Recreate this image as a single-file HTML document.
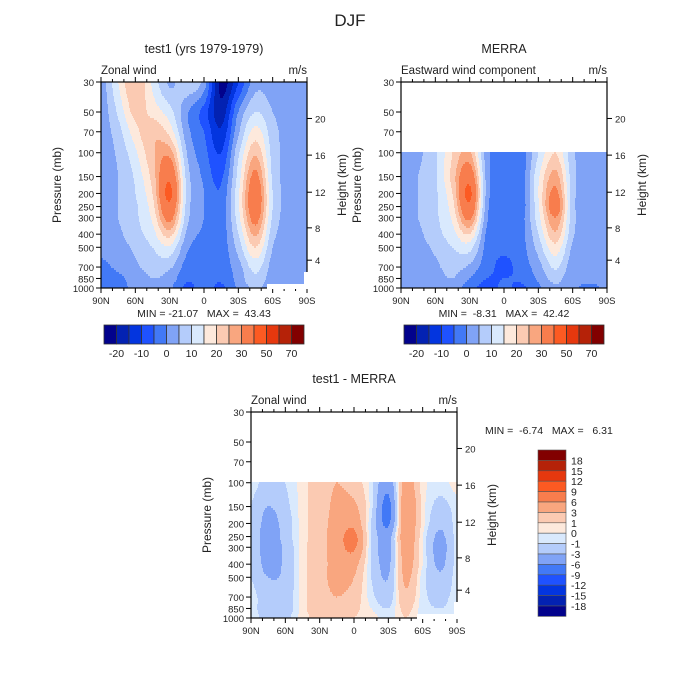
<!DOCTYPE html>
<html><head><meta charset="utf-8">
<style>
html,body{margin:0;padding:0;background:#fff;}
svg{display:block;font-family:"Liberation Sans",sans-serif;}
text{fill:#222;white-space:pre;}
</style></head>
<body>
<svg id="root" width="700" height="700" viewBox="0 0 700 700">
<text x="350" y="26" text-anchor="middle" font-size="17">DJF</text>
</svg>
<script>
// ---- data ----
const lats = [90,75,60,45,30,15,0,-15,-30,-45,-60,-75,-90];
const levsFull = [1000,850,700,500,400,300,250,200,150,100,70,50,30];
const levsMerra = [1000,850,700,500,400,300,250,200,150,100];
const test1Grid = [
 [-2,-1,1,4,1,-6,-3,-6,1,6,1,-1,1],
 [-2,-1,2,5,3,-4,-3,-4,2,9,2,1,1],
 [-1,1,4,7,6,-2,-2,-3,3,12,3,1,1],
 [1,3,6,10,14,1,-2,-3,7,20,5,2,2],
 [1,4,8,13,22,4,-1,-3,10,26,7,3,2],
 [2,5,9,16,33,7,0,-3,13,33,9,3,2],
 [2,5,9,18,38,8,0,-3,14,36,10,3,2],
 [2,5,10,20,42,9,0,-4,14,36,10,3,2],
 [2,5,11,22,38,8,-1,-6,12,32,9,3,2],
 [2,6,14,24,28,5,-3,-10,9,24,8,3,2],
 [2,8,18,24,18,2,-5,-14,4,17,7,3,2],
 [2,11,22,18,12,1,-7,-18,0,10,5,2,2],
 [2,15,25,14,4,9,3,-22,-10,3,2,2,2]
];
const merraGrid = [
 [1,1,2,3,-3,-7,-4,-6,-1,4,1,-1,1],
 [1,2,3,5,0,-5,-5,-4,1,7,1,1,1],
 [1,2,4,7,4,-3,-6,-3,3,11,2,1,1],
 [1,3,6,10,12,-2,-4,-2,7,18,4,2,2],
 [2,4,8,13,20,-1,-3,-2,10,24,6,2,2],
 [2,5,9,16,32,1,-3,-2,13,30,7,3,2],
 [2,5,9,18,38,2,-3,-3,14,35,7,3,2],
 [2,5,9,20,42,3,-3,-3,15,32,7,3,2],
 [2,5,9,22,36,3,-3,-3,14,27,7,3,2],
 [2,4,9,20,26,2,-3,-3,10,20,6,3,2]
];
const diffGrid = [
 [-0.5,-1.5,-1.5,0.5,1.5,2,1,0.5,-0.5,1,-0.5,-0.5,0.3],
 [-0.5,-2,-2,0.5,2,2.5,1.5,0,-1,1.5,-0.5,-1,-0.5],
 [-0.5,-2,-2,0.5,2,3,2,-0.5,-2,2.5,-0.5,-1.5,-0.5],
 [-1,-3,-2.5,0.5,2,4,3,-1,-3,3.5,-0.5,-2.5,-0.5],
 [-1,-4,-2.5,0.5,2,4,4,-1,-3.5,4,0,-3.5,-0.5],
 [-1,-4.5,-2.5,0.5,2,4.5,6.5,-1,-4,4.5,0,-4,-0.5],
 [-1,-4.5,-2,0.5,2,4.5,7,-1,-4,5,0,-3.5,-0.5],
 [-1,-4,-2,0.5,2,4,5,-1,-6.5,5,0.5,-2.5,-0.5],
 [-1,-3,-1.5,0.5,2,3.5,3.5,-0.5,-7,5.5,0.5,-1.5,-0.5],
 [-0.5,-1.5,-1,0.5,2,3,2,-0.5,-5,4,0.5,-0.5,0.5]
];
const windBounds = [-20,-15,-10,-5,0,5,10,15,20,25,30,40,50,60,70];
const windLabels = ["-20","-10","0","10","20","30","50","70"];
const diffBounds = [-18,-15,-12,-9,-6,-3,-1,0,1,3,6,9,12,15,18];
const diffLabels = ["18","15","12","9","6","3","1","0","-1","-3","-6","-9","-12","-15","-18"];
const palette = ["#02028c","#0322b2","#0335df","#1f52ff","#4279f6","#80a3f6","#b4ccfb","#d9e9fd",
 "#fde9dc","#fbcab2","#f9a67f","#f87d4d","#fc5a22","#e6380e","#b52208","#820000"];
const pTicks = [30,50,70,100,150,200,250,300,400,500,700,850,1000];
const latTicks = [90,60,30,0,-30,-60,-90];
const latTickLabels = ["90N","60N","30N","0","30S","60S","90S"];
const kmTicks = ["20","16","12","8","4"];
const kmFrac = [0.177,0.355,0.535,0.708,0.865];

// ---- helpers ----
const NS="http://www.w3.org/2000/svg";
const root=document.getElementById('root');
function mk(tag,attrs,parent){const e=document.createElementNS(NS,tag);for(const k in attrs)e.setAttribute(k,attrs[k]);(parent||root).appendChild(e);return e;}
const W=206,H=206,LP0=Math.log10(30),LP1=Math.log10(1000);
function yOfP(y0,p){return y0+(Math.log10(p)-LP0)/(LP1-LP0)*H;}
function xOfLat(x0,lat){return x0+(90-lat)/180*W;}
function cub(arr,f){ // catmull-rom on index coordinate f
  const n=arr.length;let i=Math.floor(f);i=Math.max(0,Math.min(n-2,i));const t=Math.max(0,Math.min(1,f-i));
  const p0=arr[Math.max(0,i-1)],p1=arr[i],p2=arr[i+1],p3=arr[Math.min(n-1,i+2)];
  return 0.5*((2*p1)+(-p0+p2)*t+(2*p0-5*p1+4*p2-p3)*t*t+(-p0+3*p1-3*p2+p3)*t*t*t);
}
function sample(grid,levs,p,lat){
  const lp=Math.log10(p);
  if(p<levs[levs.length-1]-0.01) return null;
  let k=0;while(k<levs.length-2 && Math.log10(levs[k+1])>lp)k++;
  const a=Math.log10(levs[k]),b=Math.log10(levs[k+1]);
  let t=(a-lp)/(a-b);t=Math.max(0,Math.min(1,t));
  const fl=(90-lat)/15;
  const col=grid.map(row=>cub(row,fl));
  return cub(col,k+t);
}
function cidx(v,bounds){let i=0;while(i<bounds.length&&v>=bounds[i])i++;return i;}

function panel(name,x0,y0,grid,levs,bounds,title,sub,minmax,mmx,mmy){
  const g=mk('g',{});
  
  
  const fg=mk('g',{},g);
  
  
  const step=2;
  for(let r=0;r<H;r+=step){
    const p=Math.pow(10,LP0+(r+step/2)/H*(LP1-LP0));
    let runStart=0,runC=null;
    for(let c=0;c<=W;c++){
      let ci=null;
      if(c<W){const lat=90-(c+0.5)/W*180;const v=sample(grid,levs,p,lat);ci=(v===null)?null:cidx(v,bounds);}
      if(c===W||ci!==runC){
        if(runC!==null){
          const rc=mk('rect',{x:x0+runStart,y:y0+r,width:c-runStart+0.3,height:step+0.3,fill:palette[runC]},fg);
          
          
        }
        runStart=c;runC=ci;
      }
    }
  }
  const bd=mk('rect',{x:x0,y:y0,width:W,height:H,fill:'none',stroke:'#000','stroke-width':1.2},g);
  
  
  pTicks.forEach(p=>{
    const y=yOfP(y0,p);
    mk('line',{x1:x0-5,x2:x0,y1:y,y2:y,stroke:'#000'},g);
    const t=mk('text',{x:x0-7,y:y+4,'text-anchor':'end','font-size':9.5},g);t.textContent=p;
    
    
  });
  latTicks.forEach((lat,i)=>{
    const x=xOfLat(x0,lat);
    mk('line',{x1:x,x2:x,y1:y0+H,y2:y0+H+5,stroke:'#000'},g);
    mk('line',{x1:x,x2:x,y1:y0,y2:y0-5,stroke:'#000'},g);
    const t=mk('text',{x:x,y:y0+H+16,'text-anchor':'middle','font-size':9.5},g);t.textContent=latTickLabels[i];
    
    
  });
  for(let lat=80;lat>-90;lat-=10){if(lat%30===0)continue;const x=xOfLat(x0,lat);
    mk('line',{x1:x,x2:x,y1:y0+H,y2:y0+H+3,stroke:'#000'},g);mk('line',{x1:x,x2:x,y1:y0,y2:y0-3,stroke:'#000'},g);}
  kmTicks.forEach((k,i)=>{
    const y=y0+kmFrac[i]*H;
    mk('line',{x1:x0+W,x2:x0+W+5,y1:y,y2:y,stroke:'#000'},g);
    const t=mk('text',{x:x0+W+8,y:y+4,'font-size':9.5},g);t.textContent=k;
    
    
  });
  const yt=mk('text',{x:0,y:0,'text-anchor':'middle','font-size':12,transform:`translate(${x0-40},${y0+H/2}) rotate(-90)`},g);yt.textContent='Pressure (mb)';
  
  
  const yt2=mk('text',{x:0,y:0,'text-anchor':'middle','font-size':12,transform:`translate(${x0+W+39},${y0+H/2}) rotate(-90)`},g);yt2.textContent='Height (km)';
  
  
  const tt=mk('text',{x:x0+W/2,y:y0-29,'text-anchor':'middle','font-size':12.5},g);tt.textContent=title;
  
  
  const st=mk('text',{x:x0,y:y0-8,'font-size':11.5},g);st.textContent=sub;
  
  
  const un=mk('text',{x:x0+W,y:y0-8,'text-anchor':'end','font-size':11.5},g);un.textContent='m/s';
  
  
  const mm=mk('text',{x:mmx,y:mmy,'text-anchor':'middle','font-size':10.5},g);mm.textContent=minmax;
  
  
  return g;
}
function masks(x0,y0){
  [[x0+166,y0+202,40,5],[x0+203,y0+190,4,17]].forEach(r=>{
    const m=mk('rect',{x:r[0],y:r[1],width:r[2],height:r[3],fill:'#fff'});
    
    
  });
}
function hbar(name,x0,y0){
  const g=mk('g',{});
  
  
  const bw=12.5;
  palette.forEach((c,i)=>{const r=mk('rect',{x:x0+i*bw,y:y0,width:bw,height:19,fill:c,stroke:'#333','stroke-width':0.8},g);
    
    });
  windLabels.forEach((l,i)=>{const t=mk('text',{x:x0+(1+2*i)*bw,y:y0+32,'text-anchor':'middle','font-size':10.5},g);t.textContent=l;
    
    });
}
function vbar(name,x0,y0){
  const g=mk('g',{});
  
  
  const bh=10.4;
  for(let i=0;i<16;i++){const r=mk('rect',{x:x0,y:y0+i*bh,width:28,height:bh,fill:palette[15-i],stroke:'#555','stroke-width':0.6},g);
    
    }
  diffLabels.forEach((l,i)=>{const t=mk('text',{x:x0+33,y:y0+(i+1)*bh+4,'font-size':10.5},g);t.textContent=l;
    
    });
}
panel('test1-panel',101,82,test1Grid,levsFull,windBounds,'test1 (yrs 1979-1979)','Zonal wind','MIN = -21.07   MAX =  43.43',204,317);
masks(101,82);
panel('merra-panel',401,82,merraGrid,levsMerra,windBounds,'MERRA','Eastward wind component','MIN =  -8.31   MAX =  42.42',504,317);
panel('diff-panel',251,412,diffGrid,levsMerra,diffBounds,'test1 - MERRA','Zonal wind','',354,0);
masks(251,412);
const mm3=mk('text',{x:485,y:434,'font-size':10.5});mm3.textContent='MIN =  -6.74   MAX =   6.31';


hbar('test1-colorbar',104,325);
hbar('merra-colorbar',404,325);
vbar('diff-colorbar',538,450);
</script>
</body></html>
